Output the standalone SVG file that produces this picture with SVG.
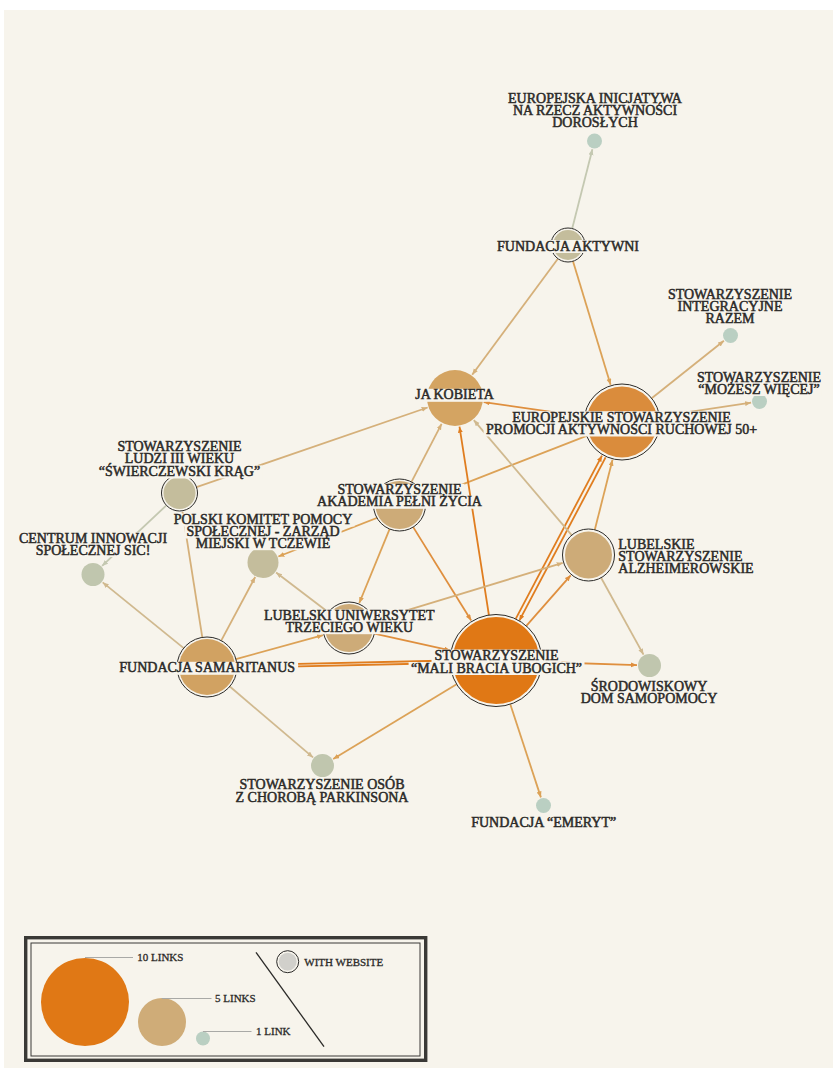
<svg xmlns="http://www.w3.org/2000/svg" width="833" height="1073" viewBox="0 0 833 1073">
<style>
.lbl{font-family:"Liberation Serif","Times New Roman",serif;font-size:14px;fill:#2b2a28;stroke:#2b2a28;stroke-width:0.5px;text-anchor:middle}
.lft{text-anchor:start}
.bg{fill:#f7f4ec}
.leg{font-family:"Liberation Serif","Times New Roman",serif;font-size:11px;fill:#2b2a28;stroke:#2b2a28;stroke-width:0.3px}
.ring{fill:#f7f4ec;stroke:#2b2a28;stroke-width:1}
.e{fill:none;stroke-width:1.8}
.or{stroke:#e07d1f}.or2{stroke:#df8f3e}.lo{stroke:#dca257}.tan{stroke:#d5b07a}.pale{stroke:#d0b98f}.gr{stroke:#c4c8b1}
</style>
<defs>
<marker id="a-or" markerUnits="userSpaceOnUse" markerWidth="7" markerHeight="6" refX="6" refY="2.5" orient="auto"><path d="M0,0 L6,2.5 L0,5 Z" fill="#e07d1f"/></marker>
<marker id="a-or2" markerUnits="userSpaceOnUse" markerWidth="7" markerHeight="6" refX="6" refY="2.5" orient="auto"><path d="M0,0 L6,2.5 L0,5 Z" fill="#df8f3e"/></marker>
<marker id="a-lo" markerUnits="userSpaceOnUse" markerWidth="7" markerHeight="6" refX="6" refY="2.5" orient="auto"><path d="M0,0 L6,2.5 L0,5 Z" fill="#dca257"/></marker>
<marker id="a-tan" markerUnits="userSpaceOnUse" markerWidth="7" markerHeight="6" refX="6" refY="2.5" orient="auto"><path d="M0,0 L6,2.5 L0,5 Z" fill="#d5b07a"/></marker>
<marker id="a-pale" markerUnits="userSpaceOnUse" markerWidth="7" markerHeight="6" refX="6" refY="2.5" orient="auto"><path d="M0,0 L6,2.5 L0,5 Z" fill="#d0b98f"/></marker>
<marker id="a-gr" markerUnits="userSpaceOnUse" markerWidth="7" markerHeight="6" refX="6" refY="2.5" orient="auto"><path d="M0,0 L6,2.5 L0,5 Z" fill="#c4c8b1"/></marker>
</defs>
<rect x="0" y="0" width="833" height="1073" fill="#ffffff"/>
<rect x="4" y="10" width="829" height="1058" fill="#f7f4ec"/>

<g id="connectors">
<line class="e gr" x1="572.2" y1="228.5" x2="592.4" y2="149.2" marker-end="url(#a-gr)"/>
<line class="e tan" x1="557.9" y1="258.7" x2="472.2" y2="374.7" marker-end="url(#a-tan)"/>
<line class="e lo" x1="573" y1="261.3" x2="610.6" y2="384.7" marker-end="url(#a-lo)"/>
<line class="e or2" x1="584.4" y1="416.6" x2="483.7" y2="402.1" marker-end="url(#a-or2)"/>
<line class="e tan" x1="651.7" y1="398.3" x2="723.9" y2="340.8" marker-end="url(#a-tan)"/>
<line class="e tan" x1="659.6" y1="416.4" x2="751.1" y2="402.7" marker-end="url(#a-tan)"/>
<line class="e lo" x1="586.6" y1="435.8" x2="278.4" y2="556.5" marker-end="url(#a-lo)"/>
<line class="e lo" x1="594.8" y1="529.8" x2="612.5" y2="459.8" marker-end="url(#a-lo)"/>
<line class="e or" x1="515.7" y1="618.9" x2="602.0" y2="455.6" marker-end="url(#a-or)"/>
<line class="e or" x1="605.6" y1="457.4" x2="519.3" y2="620.7" marker-end="url(#a-or)"/>
<line class="e or2" x1="526.3" y1="625.9" x2="570.7" y2="575.3" marker-end="url(#a-or2)"/>
<line class="e or" x1="488.9" y1="615.1" x2="459.5" y2="426.7" marker-end="url(#a-or)"/>
<line class="e or2" x1="413.2" y1="527.1" x2="471.2" y2="620.5" marker-end="url(#a-or2)"/>
<line class="e tan" x1="411.5" y1="481.9" x2="441.6" y2="423.8" marker-end="url(#a-tan)"/>
<line class="e lo" x1="389.6" y1="529.1" x2="359.3" y2="603.0" marker-end="url(#a-lo)"/>
<line class="e tan" x1="196.5" y1="487.1" x2="427.6" y2="407.5" marker-end="url(#a-tan)"/>
<line class="e gr" x1="166.4" y1="505.3" x2="102.1" y2="565.9" marker-end="url(#a-gr)"/>
<line class="e pale" x1="571.7" y1="535.2" x2="473.8" y2="420.1" marker-end="url(#a-pale)"/>
<line class="e tan" x1="373.9" y1="620.4" x2="562.7" y2="562.9" marker-end="url(#a-tan)"/>
<line class="e pale" x1="328.3" y1="612.2" x2="276.1" y2="572.5" marker-end="url(#a-pale)"/>
<line class="e or2" x1="374.4" y1="633.6" x2="450.1" y2="650.3" marker-end="url(#a-or2)"/>
<line class="e lo" x1="235.9" y1="659.1" x2="323" y2="635.2" marker-end="url(#a-lo)"/>
<line class="e or" x1="237" y1="665.3" x2="450" y2="660.5" marker-end="url(#a-or)"/>
<line class="e or" x1="450" y1="663" x2="237.5" y2="667.8" marker-end="url(#a-or)"/>
<line class="e or2" x1="542" y1="662" x2="637" y2="665.1" marker-end="url(#a-or2)"/>
<line class="e pale" x1="183.7" y1="648.1" x2="102.7" y2="582.4" marker-end="url(#a-pale)"/>
<line class="e tan" x1="202.3" y1="637.4" x2="182.5" y2="511.8" marker-end="url(#a-tan)"/>
<line class="e tan" x1="221.2" y1="640.6" x2="255.2" y2="577.0" marker-end="url(#a-tan)"/>
<line class="e pale" x1="229.8" y1="686.5" x2="313" y2="757.4" marker-end="url(#a-pale)"/>
<line class="e lo" x1="456.6" y1="684.3" x2="333.2" y2="759" marker-end="url(#a-lo)"/>
<line class="e lo" x1="510.3" y1="704.2" x2="540.9" y2="797.4" marker-end="url(#a-lo)"/>
<line class="e pale" x1="601.1" y1="577.8" x2="643.5" y2="654.6" marker-end="url(#a-pale)"/>
</g>

<g id="n-eia"><circle cx="594.5" cy="141" r="7.5" fill="#bacfc2"/>
<rect class="bg" x="504.2" y="92.5" width="181.7" height="13"/><rect class="bg" x="510.2" y="104.5" width="169.6" height="13"/><rect class="bg" x="550.2" y="116.5" width="89.6" height="13"/>
<text class="lbl" x="595" y="103">EUROPEJSKA INICJATYWA</text><text class="lbl" x="595" y="115">NA RZECZ AKTYWNOŚCI</text><text class="lbl" x="595" y="127">DOROSŁYCH</text></g>
<g id="n-fa"><circle class="ring" cx="568" cy="245" r="17"/><circle cx="568" cy="245" r="15" fill="#c4bd9c"/>
<rect class="bg" x="494.3" y="240" width="147.5" height="13"/>
<text class="lbl" x="568" y="250.5">FUNDACJA AKTYWNI</text></g>
<g id="n-raz"><circle cx="730.5" cy="335.5" r="7.5" fill="#bacfc2"/>
<rect class="bg" x="665" y="288" width="130" height="13"/><rect class="bg" x="675.1" y="300.2" width="109.9" height="13"/><rect class="bg" x="703.5" y="312.4" width="53" height="13"/>
<text class="lbl" x="730" y="298.5">STOWARZYSZENIE</text><text class="lbl" x="730" y="310.7">INTEGRACYJNE</text><text class="lbl" x="730" y="322.9">RAZEM</text></g>
<g id="n-moz"><circle cx="759.5" cy="401.5" r="7.5" fill="#bacfc2"/>
<rect class="bg" x="694" y="371" width="130" height="13"/><rect class="bg" x="696.2" y="383" width="125.7" height="13"/>
<text class="lbl" x="759" y="381.5">STOWARZYSZENIE</text><text class="lbl" x="759" y="393.5">“MOŻESZ WIĘCEJ”</text></g>
<g id="n-jk"><circle cx="455" cy="398" r="28" fill="#d4a462"/>
<rect class="bg" x="412.3" y="388.8" width="84.5" height="13"/>
<text class="lbl" x="454.5" y="399.3">JA KOBIETA</text></g>
<g id="n-esp"><circle class="ring" cx="622" cy="422" r="38"/><circle cx="622" cy="422" r="35.5" fill="#da8c3c"/>
<rect class="bg" x="509.3" y="411.2" width="224.5" height="13"/><rect class="bg" x="483.6" y="423.5" width="275.9" height="13"/>
<text class="lbl" x="621.5" y="421.7">EUROPEJSKIE STOWARZYSZENIE</text><text class="lbl" x="621.5" y="434">PROMOCJI AKTYWNOŚCI RUCHOWEJ 50+</text></g>
<g id="n-sl3"><circle class="ring" cx="179.5" cy="493" r="18"/><circle cx="179.5" cy="493" r="16" fill="#c4bd9c"/>
<rect class="bg" x="114.5" y="440.5" width="130" height="13"/><rect class="bg" x="122.7" y="452.8" width="113.6" height="13"/><rect class="bg" x="96.8" y="465.5" width="165.4" height="13"/>
<text class="lbl" x="179.5" y="451">STOWARZYSZENIE</text><text class="lbl" x="179.5" y="463.3">LUDZI III WIEKU</text><text class="lbl" x="179.5" y="476">“ŚWIERCZEWSKI KRĄG”</text></g>
<g id="n-apz"><circle class="ring" cx="399.5" cy="505" r="26"/><circle cx="399.5" cy="505" r="24" fill="#cdab78"/>
<rect class="bg" x="334.5" y="483.8" width="130" height="13"/><rect class="bg" x="314.7" y="495.8" width="169.6" height="13"/>
<text class="lbl" x="399.5" y="494.3">STOWARZYSZENIE</text><text class="lbl" x="399.5" y="506.3">AKADEMIA PEŁNI ŻYCIA</text></g>
<g id="n-pk"><circle cx="263" cy="562.5" r="15.5" fill="#c4bd9c"/>
<rect class="bg" x="171.6" y="513.5" width="182.9" height="13"/><rect class="bg" x="184.4" y="525.5" width="157.2" height="13"/><rect class="bg" x="193.4" y="537.2" width="139.3" height="13"/>
<text class="lbl" x="263" y="524">POLSKI KOMITET POMOCY</text><text class="lbl" x="263" y="536">SPOŁECZNEJ - ZARZĄD</text><text class="lbl" x="263" y="547.7">MIEJSKI W TCZEWIE</text></g>
<g id="n-ci"><circle cx="93" cy="574.5" r="11.5" fill="#c0c6ae"/>
<rect class="bg" x="16.2" y="532.2" width="153.7" height="13"/><rect class="bg" x="33.7" y="544" width="118.7" height="13"/>
<text class="lbl" x="93" y="542.7">CENTRUM INNOWACJI</text><text class="lbl" x="93" y="554.5">SPOŁECZNEJ SIC!</text></g>
<g id="n-lsa"><circle class="ring" cx="588.5" cy="555" r="26"/><circle cx="588.5" cy="555" r="23.5" fill="#cdab78"/>
<rect class="bg" x="616.3" y="538.8" width="80.2" height="13"/><rect class="bg" x="616.3" y="550.5" width="130" height="13"/><rect class="bg" x="616.3" y="562.2" width="139.3" height="13"/>
<text class="lbl lft" x="618.3" y="549.3">LUBELSKIE</text><text class="lbl lft" x="618.3" y="561">STOWARZYSZENIE</text><text class="lbl lft" x="618.3" y="572.7">ALZHEIMEROWSKIE</text></g>
<g id="n-lu3w"><circle class="ring" cx="349" cy="628" r="26"/><circle cx="349" cy="628" r="24" fill="#cdab78"/>
<rect class="bg" x="261.9" y="609.5" width="174.7" height="13"/><rect class="bg" x="283.4" y="621.2" width="131.9" height="13"/>
<text class="lbl" x="349.3" y="620">LUBELSKI UNIWERSYTET</text><text class="lbl" x="349.3" y="631.7">TRZECIEGO WIEKU</text></g>
<g id="n-fs"><circle class="ring" cx="207" cy="667" r="30"/><circle cx="207" cy="667" r="28" fill="#d1a262"/>
<rect class="bg" x="116.4" y="661.8" width="181.7" height="13"/>
<text class="lbl" x="207.2" y="672.3">FUNDACJA SAMARITANUS</text></g>
<g id="n-mbu"><circle class="ring" cx="496" cy="660.5" r="46"/><circle cx="496" cy="660.5" r="43.5" fill="#e07815"/>
<rect class="bg" x="431.5" y="649.5" width="130" height="13"/><rect class="bg" x="408.6" y="662" width="175.9" height="13"/>
<text class="lbl" x="496.5" y="660">STOWARZYSZENIE</text><text class="lbl" x="496.5" y="672.5">“MALI BRACIA UBOGICH”</text></g>
<g id="n-sds"><circle cx="649.5" cy="665.5" r="11.5" fill="#c0c6ae"/>
<rect class="bg" x="588.9" y="680.2" width="120.3" height="13"/><rect class="bg" x="578.9" y="692.2" width="140.2" height="13"/>
<text class="lbl" x="649" y="690.7">ŚRODOWISKOWY</text><text class="lbl" x="649" y="702.7">DOM SAMOPOMOCY</text></g>
<g id="n-park"><circle cx="322.5" cy="765.5" r="11.5" fill="#c0c6ae"/>
<rect class="bg" x="236.6" y="778.8" width="170.8" height="13"/><rect class="bg" x="233.1" y="791.2" width="177.9" height="13"/>
<text class="lbl" x="322" y="789.3">STOWARZYSZENIE OSÓB</text><text class="lbl" x="322" y="801.7">Z CHOROBĄ PARKINSONA</text></g>
<g id="n-fe"><circle cx="543.5" cy="805.5" r="7.5" fill="#bacfc2"/>
<rect class="bg" x="468.4" y="816.8" width="150.6" height="13"/>
<text class="lbl" x="543.7" y="827.3">FUNDACJA “EMERYT”</text></g>

<g id="legend">
<rect x="25.7" y="937.7" width="400" height="122.6" fill="#f7f4ec" stroke="#3a3936" stroke-width="3.4"/>
<rect x="31" y="943" width="389" height="113" fill="none" stroke="#3a3936" stroke-width="1"/>
<circle cx="85" cy="1002" r="44" fill="#e07815"/>
<circle cx="162" cy="1022" r="24" fill="#cfac78"/>
<circle cx="203" cy="1038.5" r="7" fill="#bacfc2"/>
<g stroke="#a9a9a6" stroke-width="1"><line x1="85" y1="957.5" x2="133" y2="957.5"/><line x1="162" y1="998.5" x2="211.5" y2="998.5"/><line x1="203" y1="1031.5" x2="251.5" y2="1031.5"/></g>
<text class="leg" x="137.3" y="961">10 LINKS</text>
<text class="leg" x="215" y="1002">5 LINKS</text>
<text class="leg" x="256" y="1034.5">1 LINK</text>
<line x1="256" y1="952.3" x2="324" y2="1046.7" stroke="#2b2a28" stroke-width="1.3"/>
<circle class="ring" cx="287.7" cy="961.7" r="11"/><circle cx="287.7" cy="961.7" r="9" fill="#d1d0cb"/>
<text class="leg" x="304.3" y="966.3">WITH WEBSITE</text>
</g>
</svg>
